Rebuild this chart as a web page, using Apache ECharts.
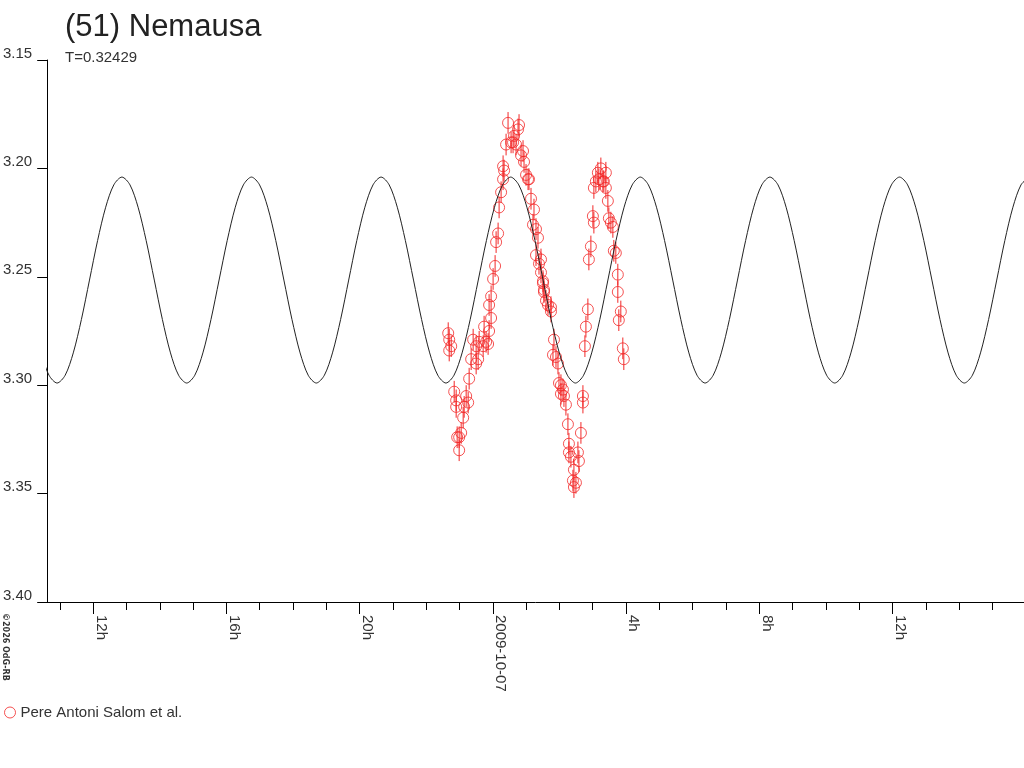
<!DOCTYPE html>
<html><head><meta charset="utf-8">
<script src="https://cdn.jsdelivr.net/npm/echarts@6/dist/echarts.min.js"></script>
<style>html,body{margin:0;padding:0;background:#fff}#c{width:1024px;height:768px}</style>
</head><body><div id="c"></div><script>
// Observation times: hours relative to 2009-10-07 00:00 UT
const obsHours = [
-1.339,-1.309,-1.249,-1.309,-1.159,-1.100,-1.100,-1.070,-1.010,-1.010,
-0.950,-0.890,-0.860,-0.800,-0.740,-0.710,-0.650,-0.590,-0.500,-0.500,
-0.440,-0.410,-0.290,-0.261,-0.201,-0.141,-0.111,-0.111,-0.051,-0.051,
0.009,0.069,0.099,0.159,0.189,0.249,0.309,0.309,0.339,0.399,
0.458,0.549,0.608,0.638,0.698,0.758,0.788,0.848,0.908,0.938,
0.998,1.058,1.087,1.147,1.207,1.237,1.297,1.297,1.357,1.387,
1.447,1.447,1.507,1.507,1.537,1.537,1.597,1.657,1.747,1.747,
1.837,1.807,1.897,1.957,1.987,2.046,2.106,2.046,2.136,2.196,
2.256,2.286,2.286,2.346,2.556,2.586,2.436,2.406,2.496,2.436,
2.646,2.706,2.706,2.766,2.796,2.855,2.885,2.945,3.005,3.035,
3.035,3.095,3.155,3.185,3.245,3.305,3.335,3.395,3.395,3.455,
3.485,3.545,3.605,3.634,3.694,3.754,3.754,3.784,3.844,3.904,
3.934
];
const obsMags = [
3.276,3.279,3.282,3.284,3.303,3.307,3.310,3.324,3.324,3.330,
3.322,3.315,3.310,3.305,3.308,3.297,3.288,3.279,3.282,3.290,
3.288,3.280,3.282,3.273,3.280,3.281,3.275,3.263,3.269,3.259,
3.251,3.245,3.234,3.230,3.218,3.211,3.205,3.199,3.201,3.189,
3.179,3.188,3.188,3.185,3.189,3.182,3.180,3.194,3.192,3.197,
3.203,3.205,3.205,3.214,3.226,3.219,3.228,3.240,3.232,3.244,
3.242,3.248,3.252,3.253,3.256,3.257,3.261,3.263,3.264,3.266,
3.279,3.286,3.287,3.290,3.299,3.300,3.302,3.304,3.305,3.309,
3.318,3.327,3.331,3.333,3.331,3.335,3.339,3.344,3.345,3.347,
3.322,3.305,3.308,3.282,3.273,3.265,3.242,3.236,3.222,3.225,
3.209,3.206,3.202,3.205,3.200,3.206,3.206,3.202,3.209,3.215,
3.223,3.225,3.227,3.238,3.239,3.249,3.257,3.270,3.266,3.283,
3.288
];
const obsErr = 0.005;

// Model light curve (hours rel. 2009-10-07 00:00, mag)
const fitHours = [
-13.569,-13.326,
-13.083,-12.840,-12.597,-12.353,-12.110,-11.867,-11.624,-11.380,-11.137,-10.894,-10.651,-10.408,-10.164,-9.921,-9.678,-9.435,
-9.191,-8.948,-8.705,-8.462,-8.219,-7.975,-7.732,-7.489,-7.246,-7.003,-6.759,-6.516,-6.273,-6.030,-5.786,-5.543,
-5.300,-5.057,-4.814,-4.570,-4.327,-4.084,-3.841,-3.597,-3.354,-3.111,-2.868,-2.625,-2.381,-2.138,-1.895,-1.652,
-1.408,-1.165,-0.922,-0.679,-0.436,-0.192,0.051,0.294,0.537,0.780,1.024,1.267,1.510,1.753,1.997,2.240,
2.483,2.726,2.969,3.213,3.456,3.699,3.942,4.186,4.429,4.672,4.915,5.158,5.402,5.645,5.888,6.131,
6.375,6.618,6.861,7.104,7.347,7.591,7.834,8.077,8.320,8.564,8.807,9.050,9.293,9.536,9.780,10.023,
10.266,10.509,10.753,10.996,11.239,11.482,11.725,11.969,12.212,12.455,12.698,12.942,13.185,13.428,13.671,13.914,
14.158,14.401,14.644,14.887,15.131,15.374,15.617,15.860,16.103
];
const fitMags = [
3.2851,3.2954,
3.2990,3.2954,3.2851,3.2697,3.2515,3.2333,3.2179,3.2076,3.2040,3.2076,3.2179,3.2333,3.2515,3.2697,3.2851,3.2954,
3.2990,3.2954,3.2851,3.2697,3.2515,3.2333,3.2179,3.2076,3.2040,3.2076,3.2179,3.2333,3.2515,3.2697,3.2851,3.2954,
3.2990,3.2954,3.2851,3.2697,3.2515,3.2333,3.2179,3.2076,3.2040,3.2076,3.2179,3.2333,3.2515,3.2697,3.2851,3.2954,
3.2990,3.2954,3.2851,3.2697,3.2515,3.2333,3.2179,3.2076,3.2040,3.2076,3.2179,3.2333,3.2515,3.2697,3.2851,3.2954,
3.2990,3.2954,3.2851,3.2697,3.2515,3.2333,3.2179,3.2076,3.2040,3.2076,3.2179,3.2333,3.2515,3.2697,3.2851,3.2954,
3.2990,3.2954,3.2851,3.2697,3.2515,3.2333,3.2179,3.2076,3.2040,3.2076,3.2179,3.2333,3.2515,3.2697,3.2851,3.2954,
3.2990,3.2954,3.2851,3.2697,3.2515,3.2333,3.2179,3.2076,3.2040,3.2076,3.2179,3.2333,3.2515,3.2697,3.2851,3.2954,
3.2990,3.2954,3.2851,3.2697,3.2515,3.2333,3.2179,3.2076,3.2040
];

const minorTickHours = [-13,-12,-11,-10,-9,-8,-7,-6,-5,-4,-3,-2,-1,0,1,2,3,4,5,6,7,8,9,10,11,12,13,14,15];
const majorTickHours = [-12,-8,-4,0,4,8,12];
const majorTickLabels = ['12h','16h','20h','2009-10-07','4h','8h','12h'];
const titleText = '(51) Nemausa';
const subText = 'T=0.32429';
const seriesName = 'Pere Antoni Salom et al.';
const copyText = '\u00A92026 OdG-RB';

const X_MIN = -13.38, X_MAX = 15.95;
const RED = '#f22828';
const FONT = '"Liberation Sans", Arial, sans-serif';

const chart = echarts.init(document.getElementById('c'), null, {renderer:'canvas'});
chart.setOption({
  animation: false,
  backgroundColor: '#fff',
  textStyle: {fontFamily: FONT},
  title: [
    {text: titleText, left: 65, top: 12, padding: 0,
     textStyle: {fontSize: 31, fontWeight: 'normal', color: '#222', fontFamily: FONT}},
    {text: subText, left: 65, top: 50, padding: 0,
     textStyle: {fontSize: 15, fontWeight: 'normal', color: '#333', fontFamily: FONT}}
  ],
  legend: {
    left: 4, top: 705, padding: 0, itemWidth: 11, itemHeight: 11, itemGap: 10,
    textStyle: {fontSize: 15, color: '#333', fontFamily: FONT},
    data: [{name: seriesName, icon: 'circle', itemStyle: {color: 'transparent', borderColor: RED, borderWidth: 1}}]
  },
  grid: {left: 45, right: 0, top: 60, bottom: 166},
  xAxis: [
    {type: 'value', min: X_MIN, max: X_MAX, position: 'bottom',
     axisLine: {show: true, onZero: false, lineStyle: {color: '#000', width: 1}},
     axisTick: {show: true, length: 8, customValues: minorTickHours, lineStyle: {color: '#000'}},
     axisLabel: {show: false}, splitLine: {show: false}},
    {type: 'value', min: X_MIN, max: X_MAX, position: 'bottom',
     axisLine: {show: false, onZero: false},
     axisTick: {show: true, length: 12, customValues: majorTickHours, lineStyle: {color: '#000'}},
     axisLabel: {show: true, customValues: majorTickHours, rotate: -90, margin: 13,
       fontSize: 15, color: '#333', fontFamily: FONT, verticalAlign: 'bottom', lineHeight: 15,
       formatter: v => { const i = majorTickHours.indexOf(Math.round(v)); return i >= 0 ? majorTickLabels[i] : ''; }},
     splitLine: {show: false}}
  ],
  yAxis: {
    type: 'value', inverse: true, min: 3.15, max: 3.40, interval: 0.05,
    axisLine: {show: true, onZero: false, lineStyle: {color: '#000', width: 1}},
    axisTick: {show: true, length: 10, lineStyle: {color: '#000'}},
    splitLine: {show: false},
    axisLabel: {fontSize: 15, color: '#333', fontFamily: FONT, margin: 15,
      verticalAlign: 'bottom', lineHeight: 13,
      formatter: v => v.toFixed(2)}
  },
  series: [
    {type: 'custom', xAxisIndex: 0, silent: true, z: 2,
     data: obsHours.map((h, i) => [h, obsMags[i] - obsErr, obsMags[i] + obsErr]),
     encode: {x: 0, y: [1, 2]},
     renderItem: (params, api) => {
       const x = api.value(0);
       const a = api.coord([x, api.value(1)]);
       const b = api.coord([x, api.value(2)]);
       return {type: 'line', shape: {x1: a[0], y1: a[1], x2: b[0], y2: b[1]},
               style: {stroke: RED, lineWidth: 1}};
     }},
    {type: 'scatter', name: seriesName, xAxisIndex: 0, symbol: 'circle', symbolSize: 11, z: 3,
     itemStyle: {color: 'transparent', borderColor: RED, borderWidth: 1},
     data: obsHours.map((h, i) => [h, obsMags[i]])},
    {type: 'line', xAxisIndex: 0, showSymbol: false, smooth: 0.3, silent: true, z: 4,
     lineStyle: {color: '#222', width: 1},
     data: fitHours.map((h, i) => [h, fitMags[i]])}
  ],
  graphic: [
    {type: 'text', x: 1, y: 613, rotation: -Math.PI / 2,
     style: {text: copyText, x: 0, y: 0, fontSize: 8, fontWeight: 'bold',
       fontFamily: '"DejaVu Sans", sans-serif', fill: '#333', align: 'left', verticalAlign: 'bottom'}}
  ]
});
</script></body></html>
